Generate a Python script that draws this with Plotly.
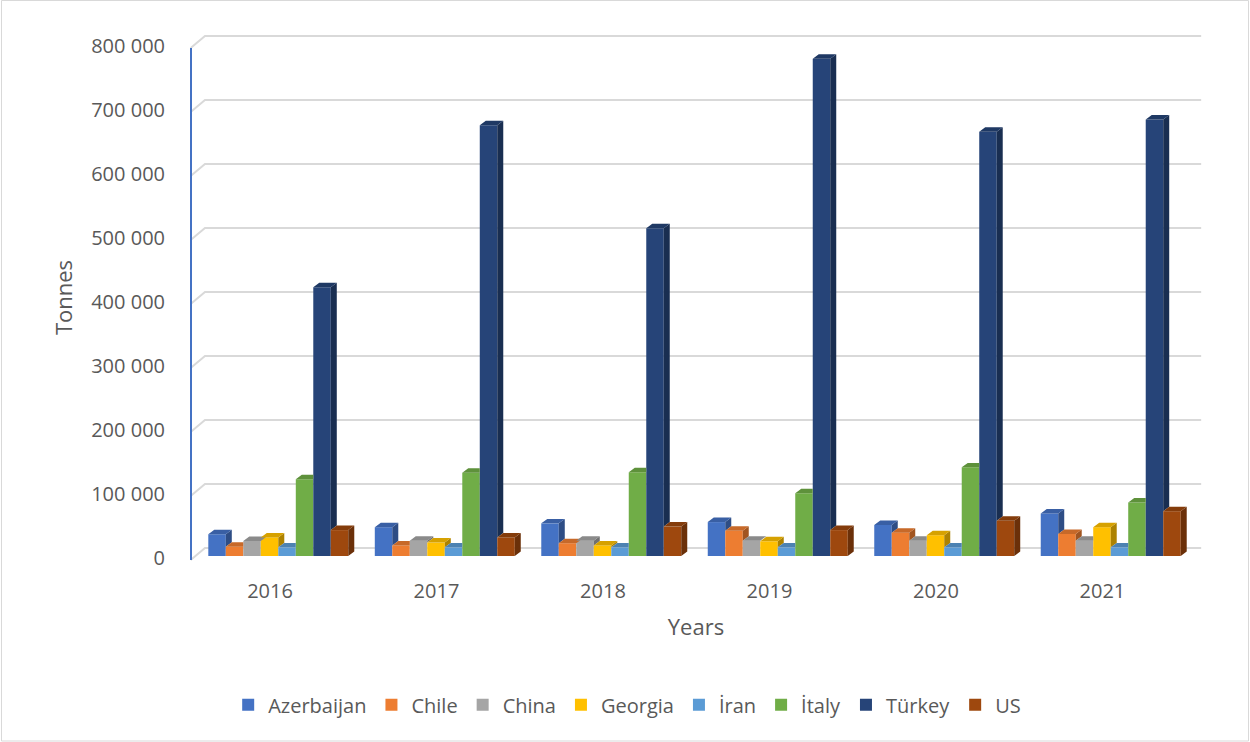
import plotly.graph_objects as go

# ---------------- data ----------------
years = ["2016", "2017", "2018", "2019", "2020", "2021"]
countries = ["Azerbaijan", "Chile", "China", "Georgia", "İran", "İtaly", "Türkey", "US"]

azerbaijan = [34000, 45000, 51000, 53000, 48500, 66500]
chile = [14500, 16500, 20000, 39500, 36500, 34500]
china = [23500, 24000, 24000, 24000, 24000, 24000]
georgia = [29000, 21000, 16500, 23000, 32500, 45000]
iran = [13500, 13500, 13500, 13500, 13500, 13500]
italy = [120000, 130000, 131000, 98000, 138500, 83500]
turkey = [420000, 673000, 512000, 777000, 663000, 682000]
us = [40500, 29000, 46000, 40500, 55000, 70000]

series = [azerbaijan, chile, china, georgia, iran, italy, turkey, us]

y_ticks = [0, 100000, 200000, 300000, 400000, 500000, 600000, 700000, 800000]
y_tick_text = ["0", "100 000", "200 000", "300 000", "400 000", "500 000", "600 000", "700 000", "800 000"]

# ---------------- style ----------------
front_colors = ["#4472C4", "#ED7D31", "#A5A5A5", "#FFC000", "#5B9BD5", "#70AD47", "#264478", "#9E480E"]


def shade(hex_color, f):
    h = hex_color.lstrip("#")
    r, g, b = (int(h[i:i + 2], 16) for i in (0, 2, 4))
    return "rgb({},{},{})".format(int(r * f), int(g * f), int(b * f))


side_colors = [shade(c, 0.68) for c in front_colors]
top_colors = [shade(c, 0.84) for c in front_colors]

FONT = "Open Sans"
TXT = "#595959"

bar_w = 0.1051          # width of one bar (category units)
left0 = -0.3706         # left edge of first bar relative to category
ddx = 0.036             # bar depth, x (category units)
ddy = 7000              # bar depth, y (value units)
wall_dx = 0.09          # back wall offset
wall_dy = 12500
front_dy = -6250
x_lo, x_hi = -0.4805, 5.598

idx = list(range(len(years)))

fig = go.Figure()

# Front faces as real bars
for i, (name, vals) in enumerate(zip(countries, series)):
    fig.add_trace(go.Bar(
        x=idx, y=vals, name=name,
        offset=left0 + i * bar_w, width=bar_w,
        marker=dict(color=front_colors[i], line=dict(width=0)),
        hovertemplate=name + " %{customdata}: %{y:,}<extra></extra>",
        customdata=years,
    ))

# 3-D side and top faces, derived from the same values, drawn in series order
for i, vals in enumerate(series):
    sx, sy, tx, ty = [], [], [], []
    for k, v in enumerate(vals):
        xl = k + left0 + i * bar_w
        xr = xl + bar_w
        nxt = series[i + 1][k] if i + 1 < len(series) else 0
        # side face: only the part that is not hidden by the next bar
        if v > nxt:
            sx += [xr, xr + ddx, xr + ddx, xr, xr, None]
            sy += [nxt, nxt + ddy, v + ddy, v, nxt, None]
        # top face
        right_end = xr + ddx if nxt < v + ddy else xr
        tx += [xl, xl + ddx, right_end, xr, xl, None]
        ty += [v, v + ddy, v + ddy, v, v, None]
    fig.add_trace(go.Scatter(x=sx, y=sy, mode="lines", fill="toself",
                             fillcolor=side_colors[i], line=dict(width=0),
                             hoverinfo="skip", showlegend=False))
    fig.add_trace(go.Scatter(x=tx, y=ty, mode="lines", fill="toself",
                             fillcolor=top_colors[i], line=dict(width=0),
                             hoverinfo="skip", showlegend=False))

# Back-wall gridlines with the perspective diagonal
shapes = []
for t in y_ticks:
    shapes.append(dict(
        type="path", xref="x", yref="y", layer="below",
        path="M {},{} L {},{} L {},{}".format(x_lo + 0.004, t + front_dy, x_lo + wall_dx, t + wall_dy,
                                              x_hi - 0.005, t + wall_dy),
        line=dict(color="#D9D9D9", width=2),
    ))
# left value axis line
shapes.append(dict(type="line", xref="x", yref="y", x0=x_lo + 0.006, x1=x_lo + 0.006,
                   y0=front_dy, y1=793750, line=dict(color="#4472C4", width=2), layer="above"))
# chart border
shapes.append(dict(type="rect", xref="paper", yref="paper",
                   x0=(1.5 - 190) / 1012, x1=(1248.5 - 190) / 1012,
                   y0=(561 - 741) / 527, y1=(561 - 0.5) / 527,
                   line=dict(color="#D9D9D9", width=1)))

fig.update_layout(
    width=1250, height=742,
    margin=dict(l=190, r=48, t=34, b=181),
    paper_bgcolor="white", plot_bgcolor="white",
    barmode="overlay",
    font=dict(family=FONT, size=20, color=TXT),
    shapes=shapes,
    showlegend=True,
    legend=dict(orientation="h", x=0.432, xanchor="center", y=-0.273, yanchor="middle",
                font=dict(family=FONT, size=20, color=TXT), traceorder="normal"),
    xaxis=dict(
        range=[x_lo, x_hi], tickvals=idx, ticktext=years,
        showgrid=False, zeroline=False, showline=False,
        ticks="outside", ticklen=0, ticklabelstandoff=12,
        tickfont=dict(family=FONT, size=20, color=TXT),
        title=dict(text="Years", font=dict(family=FONT, size=22, color=TXT), standoff=16),
    ),
    yaxis=dict(
        range=[-7812.5, 815625],
        tickvals=[t - 3500 for t in y_ticks], ticktext=y_tick_text,
        showgrid=False, zeroline=False, showline=False,
        ticks="outside", ticklen=0, ticklabelstandoff=20,
        tickfont=dict(family=FONT, size=20, color=TXT),
        title=dict(text="Tonnes", font=dict(family=FONT, size=22, color=TXT), standoff=12),
    ),
)

fig.write_html("out.html")
